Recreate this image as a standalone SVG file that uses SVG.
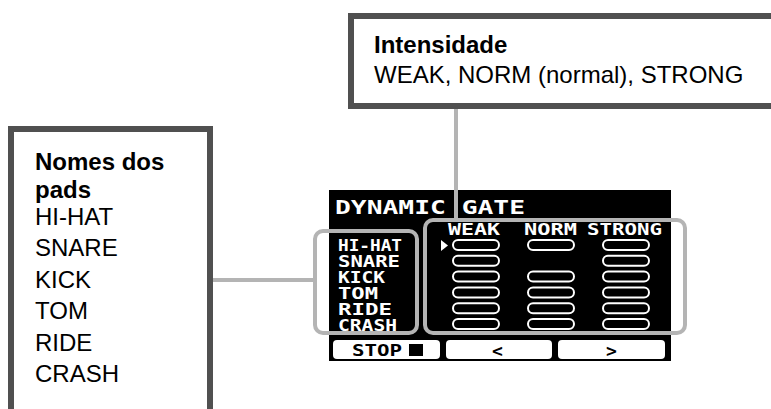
<svg xmlns="http://www.w3.org/2000/svg" width="771" height="409" viewBox="0 0 771 409">
<style>
.box{fill:#fff;stroke:#505050;stroke-width:6}
.ann{font-family:"Liberation Sans",Arial,sans-serif;font-size:24px;fill:#000}
.b{font-weight:bold}
.px{font-family:"DejaVu Sans Mono",monospace;font-weight:bold;fill:#fff}
.pxd{font-family:"DejaVu Sans Mono",monospace;font-weight:bold;fill:#000}
.hl{fill:none;stroke:#b4b4b4;stroke-width:4}
.conn{stroke:#b4b4b4;stroke-width:4;fill:none}
.bar{fill:#000;stroke:#fff;stroke-width:2}
.btn{fill:#fff}
</style>
<rect width="771" height="409" fill="#fff"/>
<g id="connectors">
<line class="conn" x1="456" y1="109" x2="456" y2="220"/>
<line class="conn" x1="213" y1="280" x2="315" y2="280"/>
</g>
<g id="box-intensidade">
<rect class="box" x="351" y="16" width="440" height="90"/>
<text class="ann b" x="374" y="53">Intensidade</text>
<text class="ann" x="374" y="83">WEAK, NORM (normal), STRONG</text>
</g>
<g id="box-pads">
<rect class="box" x="11" y="129" width="199" height="300"/>
<text class="ann b" x="35" y="170">Nomes dos</text>
<text class="ann b" x="35" y="197.5">pads</text>
<text class="ann" x="35" y="225">HI-HAT</text>
<text class="ann" x="35" y="256.4">SNARE</text>
<text class="ann" x="35" y="287.8">KICK</text>
<text class="ann" x="35" y="319.2">TOM</text>
<text class="ann" x="35" y="350.6">RIDE</text>
<text class="ann" x="35" y="382">CRASH</text>
</g>
<g id="screen">
<rect x="329" y="190" width="342" height="171" fill="#000"/>
<text class="px" x="335" y="214" font-size="19" textLength="190" lengthAdjust="spacingAndGlyphs">DYNAMIC GATE</text>
<line class="conn" x1="456" y1="190" x2="456" y2="220"/>
<text class="px" x="448" y="235" font-size="15" textLength="52" lengthAdjust="spacingAndGlyphs">WEAK</text>
<text class="px" x="524" y="235" font-size="15" textLength="53" lengthAdjust="spacingAndGlyphs">NORM</text>
<text class="px" x="587" y="235" font-size="15" textLength="75" lengthAdjust="spacingAndGlyphs">STRONG</text>
<g font-size="15">
<text class="px" x="338" y="251" textLength="64" lengthAdjust="spacingAndGlyphs">HI-HAT</text>
<text class="px" x="338" y="267" textLength="62" lengthAdjust="spacingAndGlyphs">SNARE</text>
<text class="px" x="338" y="283" textLength="47" lengthAdjust="spacingAndGlyphs">KICK</text>
<text class="px" x="338" y="299" textLength="40" lengthAdjust="spacingAndGlyphs">TOM</text>
<text class="px" x="338" y="315" textLength="54" lengthAdjust="spacingAndGlyphs">RIDE</text>
<text class="px" x="338" y="331" textLength="59" lengthAdjust="spacingAndGlyphs">CRASH</text>
</g>
<polygon points="441,240 448,245.5 441,251" fill="#fff"/>
<g id="bars">
<rect class="bar" x="453" y="240" width="46" height="10" rx="5"/>
<rect class="bar" x="453" y="255.8" width="46" height="10" rx="5"/>
<rect class="bar" x="453" y="271.6" width="46" height="10" rx="5"/>
<rect class="bar" x="453" y="287.4" width="46" height="10" rx="5"/>
<rect class="bar" x="453" y="303.2" width="46" height="10" rx="5"/>
<rect class="bar" x="453" y="319" width="46" height="10" rx="5"/>
<rect class="bar" x="528" y="240" width="46" height="10" rx="5"/>
<rect class="bar" x="528" y="271.6" width="46" height="10" rx="5"/>
<rect class="bar" x="528" y="287.4" width="46" height="10" rx="5"/>
<rect class="bar" x="528" y="303.2" width="46" height="10" rx="5"/>
<rect class="bar" x="528" y="319" width="46" height="10" rx="5"/>
<rect class="bar" x="603" y="240" width="46" height="10" rx="5"/>
<rect class="bar" x="603" y="255.8" width="46" height="10" rx="5"/>
<rect class="bar" x="603" y="271.6" width="46" height="10" rx="5"/>
<rect class="bar" x="603" y="287.4" width="46" height="10" rx="5"/>
<rect class="bar" x="603" y="303.2" width="46" height="10" rx="5"/>
<rect class="bar" x="603" y="319" width="46" height="10" rx="5"/>
</g>
<rect class="hl" x="315" y="231" width="102" height="102" rx="8"/>
<rect class="hl" x="425" y="220" width="260" height="113" rx="8"/>
<rect class="btn" x="333" y="340" width="107" height="19" rx="4"/>
<rect class="btn" x="446" y="340" width="106" height="19" rx="4"/>
<rect class="btn" x="558" y="340" width="107" height="19" rx="4"/>
<text class="pxd" x="352" y="356" font-size="16" textLength="50" lengthAdjust="spacingAndGlyphs">STOP</text>
<rect x="409" y="344" width="14" height="12" fill="#000"/>
<text class="pxd" x="492" y="357" font-size="18">&lt;</text>
<text class="pxd" x="606" y="357" font-size="18">&gt;</text>
</g>
</svg>
